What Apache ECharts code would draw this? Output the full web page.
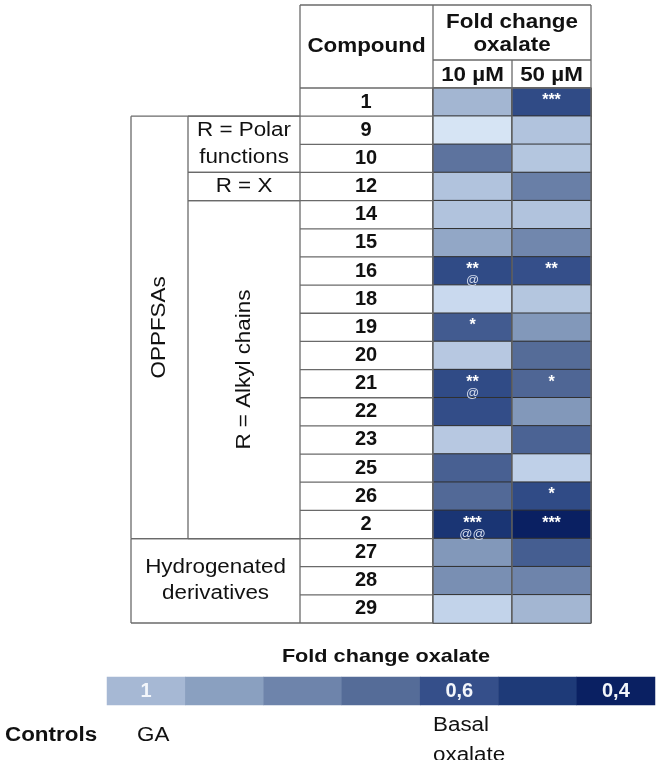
<!DOCTYPE html>
<html>
<head>
<meta charset="utf-8">
<script src="https://cdn.jsdelivr.net/npm/echarts@6/dist/echarts.min.js"></script>
<style>html,body{margin:0;padding:0;background:#fff}#c{width:661px;height:760px}</style>
</head>
<body>
<div id="c"></div>
<script>
// ---- data ----
const compounds = ['1','9','10','12','14','15','16','18','19','20','21','22','23','25','26','2','27','28','29'];
const concentrations = ['10 µM', '50 µM'];
const fc10 = [0.99,1.18,0.73,1.04,1.04,0.93,0.58,1.13,0.64,1.06,0.58,0.59,1.06,0.66,0.69,0.48,0.87,0.84,1.10];
const fc50 = [0.58,1.04,1.05,0.78,1.04,0.81,0.60,1.05,0.87,0.70,0.68,0.87,0.67,1.09,0.58,0.40,0.65,0.80,0.99];
const stars10 = ['','','','','','','**','','*','','**','','','','','***','','',''];
const ats10   = ['','','','','','','@','','','','@','','','','','@@','','',''];
const stars50 = ['***','','','','','','**','','','','*','','','','*','***','','',''];
const ats50   = ['','','','','','','','','','','','','','','','','','',''];
const legendValues = [1, 0.9, 0.8, 0.7, 0.6, 0.5, 0.4];
const legendLabels = ['1', '', '', '', '0,6', '', '0,4'];
const scaleMin = 0.4, scaleMax = 1.2;
const scaleColors = ['#0a2062','#1e3a78','#354f8a','#556c98','#6e84ab','#8aa0c0','#a6b8d4','#c2d3ea','#dbe8f7'];
const groups = [
  {text: 'OPPFSAs', first: '9', last: '2', rotate: true},
  {text: 'Hydrogenated\nderivatives', first: '27', last: '29', wide: true}
];
const subgroups = [
  {text: 'R = Polar\nfunctions', first: '9', last: '10'},
  {text: 'R = X', first: '12', last: '12'},
  {text: 'R = Alkyl chains', first: '14', last: '2', rotate: true}
];
const headerCompound = 'Compound';
const headerFold = 'Fold change\noxalate';
const legendTitle = 'Fold change oxalate';
const controlsLabel = 'Controls';
const controls = [{text: 'GA', at: 1}, {text: 'Basal\noxalate', at: 0.6}];

// ---- chart ----
const FF = '"Liberation Sans", Arial, sans-serif';
const SX = 1.12;
const chart = echarts.init(document.getElementById('c'), null, {renderer: 'canvas'});

const data = [];
compounds.forEach((c, i) => {
  data.push([0, i, fc10[i]]);
  data.push([1, i, fc50[i]]);
});

const option = {
  backgroundColor: '#fff',
  animation: false,
  grid: [
    {left: 433, top: 88, width: 158, height: 535},
    {left: 107, top: 677, width: 548, height: 28}
  ],
  xAxis: [
    {type: 'category', gridIndex: 0, data: concentrations, position: 'top',
     axisLine: {show: false}, axisTick: {show: false}, axisLabel: {show: false}, splitLine: {show: false}},
    {type: 'category', gridIndex: 1, data: legendValues.map(String), show: false}
  ],
  yAxis: [
    {type: 'category', gridIndex: 0, data: compounds, inverse: true,
     axisLine: {show: false}, axisTick: {show: false}, splitLine: {show: false},
     axisLabel: {fontSize: 20, fontWeight: 'bold', color: '#111', fontFamily: FF, align: 'center', margin: 67}},
    {type: 'category', gridIndex: 1, data: ['scale'], show: false}
  ],
  visualMap: {
    type: 'continuous', show: false, min: scaleMin, max: scaleMax, dimension: 2,
    seriesIndex: [0, 1], inRange: {color: scaleColors}
  },
  series: [
    {
      type: 'heatmap', xAxisIndex: 0, yAxisIndex: 0, data: data,
      itemStyle: {borderColor: '#303030', borderWidth: 1},
      emphasis: {disabled: true},
      label: {
        show: true, position: 'insideTop', distance: 9,
        formatter: p => {
          const i = p.data[1];
          const s = p.data[0] === 0 ? stars10[i] : stars50[i];
          const a = p.data[0] === 0 ? ats10[i] : ats50[i];
          if (!s && !a) return '';
          return '{s|' + s + '}' + (a ? '\n{a|' + a + '}' : '');
        },
        rich: {
          s: {fontSize: 16, fontWeight: 'bold', color: '#ffffff', lineHeight: 9, fontFamily: FF},
          a: {fontSize: 13, color: '#d3dbeb', lineHeight: 13, fontFamily: FF}
        }
      }
    },
    {
      type: 'heatmap', xAxisIndex: 1, yAxisIndex: 1,
      data: legendValues.map((v, i) => [i, 0, v]),
      emphasis: {disabled: true},
      label: {show: true, formatter: p => legendLabels[p.data[0]],
        color: '#f3f6fb', fontSize: 20, fontWeight: 'bold', fontFamily: FF}
    }
  ]
};
chart.setOption(option);

// ---- table frame from the axes ----
const yc = c => chart.convertToPixel({yAxisIndex: 0}, c);
const xc = c => chart.convertToPixel({xAxisIndex: 0}, c);
const rh = Math.abs(yc(compounds[1]) - yc(compounds[0]));
const cw = Math.abs(xc(concentrations[1]) - xc(concentrations[0]));
const rowTop = c => yc(c) - rh / 2;
const rowBot = c => yc(c) + rh / 2;
const gTop = rowTop(compounds[0]);
const gBot = rowBot(compounds[compounds.length - 1]);
const colL = xc(concentrations[0]) - cw / 2;
const colM = xc(concentrations[0]) + cw / 2;
const colR = xc(concentrations[1]) + cw / 2;
const X0 = 131, X1 = 188, X2 = 300;
const H0 = 5, H1 = gTop - 28;
const LC = '#6a6a6a', LW = 1.3;

const els = [];
const line = (x1, y1, x2, y2, col, w) => els.push({type: 'line', silent: true, z: 10,
  shape: {x1, y1, x2, y2}, style: {stroke: col || LC, lineWidth: w || LW}});
const text = (t, x, y, o) => {
  o = o || {};
  els.push({type: 'text', silent: true, z: 20, x, y, rotation: o.rot || 0, scaleX: o.sx || SX, scaleY: 1,
    style: {text: t, fill: o.fill || '#111', fontSize: o.size || 20, fontWeight: o.bold ? 'bold' : 'normal',
      fontFamily: FF, align: o.align || 'center', verticalAlign: 'middle', lineHeight: o.lh || 24}});
};

// header
line(X2, H0, colR, H0);
line(colL, H1, colR, H1);
line(X2, gTop, colR, gTop);
line(X2, H0, X2, gBot);
line(colL, H0, colL, gBot);
line(colM, H1, colM, gBot);
line(colR, H0, colR, gBot);
text(headerCompound, (X2 + colL) / 2, (H0 + gTop) / 2, {bold: true});
text(headerFold, (colL + colR) / 2, (H0 + H1) / 2 + 1, {bold: true, lh: 23});
concentrations.forEach(c => text(c, xc(c), (H1 + gTop) / 2 + 1, {bold: true}));
// compound rows
compounds.forEach(c => line(X2, rowBot(c), colL, rowBot(c)));
// groups
groups.forEach(g => {
  const t = rowTop(g.first), b = rowBot(g.last);
  line(X0, t, X2, t); line(X0, b, X2, b); line(X0, t, X0, b);
  if (g.wide) {
    text(g.text, (X0 + X2) / 2, (t + b) / 2, {lh: 26});
  } else {
    line(X1, t, X1, b);
    text(g.text, (X0 + X1) / 2, (t + b) / 2, {rot: g.rotate ? Math.PI / 2 : 0});
  }
});
subgroups.forEach(g => {
  const t = rowTop(g.first), b = rowBot(g.last);
  line(X1, t, X2, t); line(X1, b, X2, b);
  text(g.text, (X1 + X2) / 2, (t + b) / 2, {rot: g.rotate ? Math.PI / 2 : 0, lh: 27});
});

// legend texts
text(legendTitle, 386, 657, {bold: true, size: 19, sx: 1.14});
text(controlsLabel, 5, 735, {bold: true, align: 'left'});
controls.forEach(c => {
  text(c.text, c.at === 1 ? 137 : 433, c.at === 1 ? 735 : 740, {align: 'left', lh: 30});
});

chart.setOption({graphic: {elements: els}});
</script>
</body>
</html>
